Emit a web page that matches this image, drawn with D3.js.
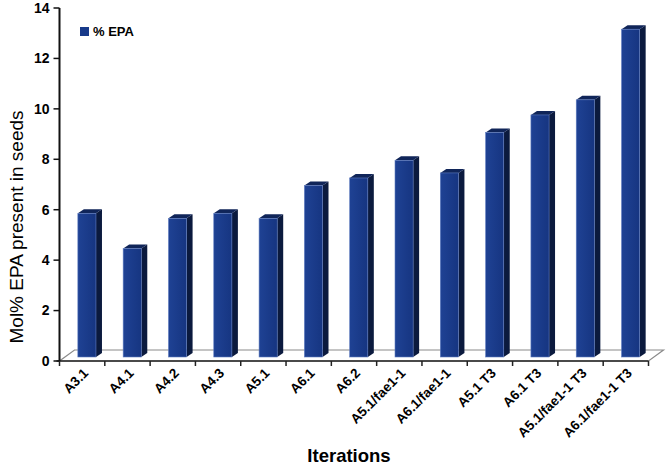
<!DOCTYPE html>
<html>
<head>
<meta charset="utf-8">
<script src="https://cdn.jsdelivr.net/npm/d3@7"></script>
<style>
  body { margin: 0; background: #fff; }
  svg { font-family: "Liberation Sans", Arial, sans-serif; }
</style>
</head>
<body>
<div id="chart"></div>
<script>
const categories = ["A3.1", "A4.1", "A4.2", "A4.3", "A5.1", "A6.1", "A6.2",
  "A5.1/fae1-1", "A6.1/fae1-1", "A5.1 T3", "A6.1 T3", "A5.1/fae1-1 T3", "A6.1/fae1-1 T3"];
const epaValues = [5.7, 4.3, 5.5, 5.7, 5.5, 6.8, 7.1, 7.8, 7.3, 8.9, 9.6, 10.2, 13.0];
const yTicks = [0, 2, 4, 6, 8, 10, 12, 14];
const seriesName = "% EPA";

const W = 667, H = 468;
const svg = d3.select("#chart").append("svg")
  .attr("width", W).attr("height", H);

const x = d3.scaleBand().domain(categories).range([59.5, 648.5]).padding(0);
const y = d3.scaleLinear().domain([0, 14]).range([361, 8]);

// floor depth and bar depth (3d look)
const floorDx = 15, floorDy = -11;
const barDx = 6, barDy = -4, barLift = 4;

const defs = svg.append("defs");
const grad = defs.append("linearGradient").attr("id", "front")
  .attr("x1", "0").attr("x2", "1").attr("y1", "0").attr("y2", "0");
grad.append("stop").attr("offset", "0").attr("stop-color", "#1f4294");
grad.append("stop").attr("offset", "1").attr("stop-color", "#163581");

// floor
const x0 = x.range()[0], x1 = x.range()[1], y0 = y(0);
svg.append("polygon")
  .attr("points", [[x0, y0], [x1, y0], [x1 + floorDx, y0 + floorDy], [x0 + floorDx, y0 + floorDy]].join(" "))
  .attr("fill", "none").attr("stroke", "#8a8a8a").attr("stroke-width", 1.2);
svg.append("line")
  .attr("x1", x0 - 3).attr("x2", x1).attr("y1", y0).attr("y2", y0)
  .attr("stroke", "#222").attr("stroke-width", 1.5);

// bars
const bw = x.bandwidth() * 0.4;
const bars = svg.append("g").selectAll("g")
  .data(categories.map((c, i) => ({c, v: epaValues[i]})))
  .enter().append("g");

bars.each(function(d) {
  const g = d3.select(this);
  const left = x(d.c) + x.bandwidth() * 0.405;
  const right = left + bw;
  const top = y(d.v) - barLift;
  const bottom = y(0) - barLift;
  g.append("polygon")
    .attr("points", [[right, top], [right + barDx, top + barDy], [right + barDx, bottom + barDy], [right, bottom]].join(" "))
    .attr("fill", "#0b1a3e");
  g.append("polygon")
    .attr("points", [[left, top], [left + barDx, top + barDy], [right + barDx, top + barDy], [right, top]].join(" "))
    .attr("fill", "#102559");
  g.append("rect")
    .attr("x", left).attr("y", top)
    .attr("width", bw).attr("height", bottom - top)
    .attr("fill", "url(#front)")
    .attr("stroke", "#5f7cc0").attr("stroke-width", 0.6);
});

// y axis
svg.append("line")
  .attr("x1", x0).attr("x2", x0).attr("y1", y(14)).attr("y2", y0)
  .attr("stroke", "#111").attr("stroke-width", 2);
const yt = svg.append("g").selectAll("g").data(yTicks).enter().append("g");
yt.append("line")
  .attr("x1", x0 - 6).attr("x2", x0).attr("y1", d => y(d)).attr("y2", d => y(d))
  .attr("stroke", "#111").attr("stroke-width", 1.5);
yt.append("text")
  .attr("x", x0 - 10).attr("y", d => y(d)).attr("dy", "0.35em")
  .attr("text-anchor", "end").attr("font-size", 14).attr("font-weight", "bold")
  .text(d => d);

// x ticks and labels
const tickPos = categories.map(c => x(c)).concat([x1]);
svg.append("g").selectAll("line").data(tickPos).enter().append("line")
  .attr("x1", d => d).attr("x2", d => d).attr("y1", y0).attr("y2", y0 + 5)
  .attr("stroke", "#222").attr("stroke-width", 1.5);
svg.append("g").selectAll("text").data(categories).enter().append("text")
  .attr("transform", d => `translate(${x(d) + x.bandwidth() / 2 + 7},${y0 + 13}) rotate(-45)`)
  .attr("text-anchor", "end").attr("font-size", 13.5).attr("font-weight", "bold")
  .text(d => d);

// axis titles
svg.append("text")
  .attr("transform", `translate(23,227) rotate(-90)`)
  .attr("text-anchor", "middle").attr("font-size", 19)
  .text("Mol% EPA present in seeds");
svg.append("text")
  .attr("x", 349).attr("y", 462)
  .attr("text-anchor", "middle").attr("font-size", 18.5).attr("font-weight", "bold")
  .text("Iterations");

// legend
svg.append("rect").attr("x", 80).attr("y", 27).attr("width", 9).attr("height", 9)
  .attr("fill", "#183a8a");
svg.append("text").attr("x", 93).attr("y", 36)
  .attr("font-size", 13).attr("font-weight", "bold").text(seriesName);
</script>
</body>
</html>
